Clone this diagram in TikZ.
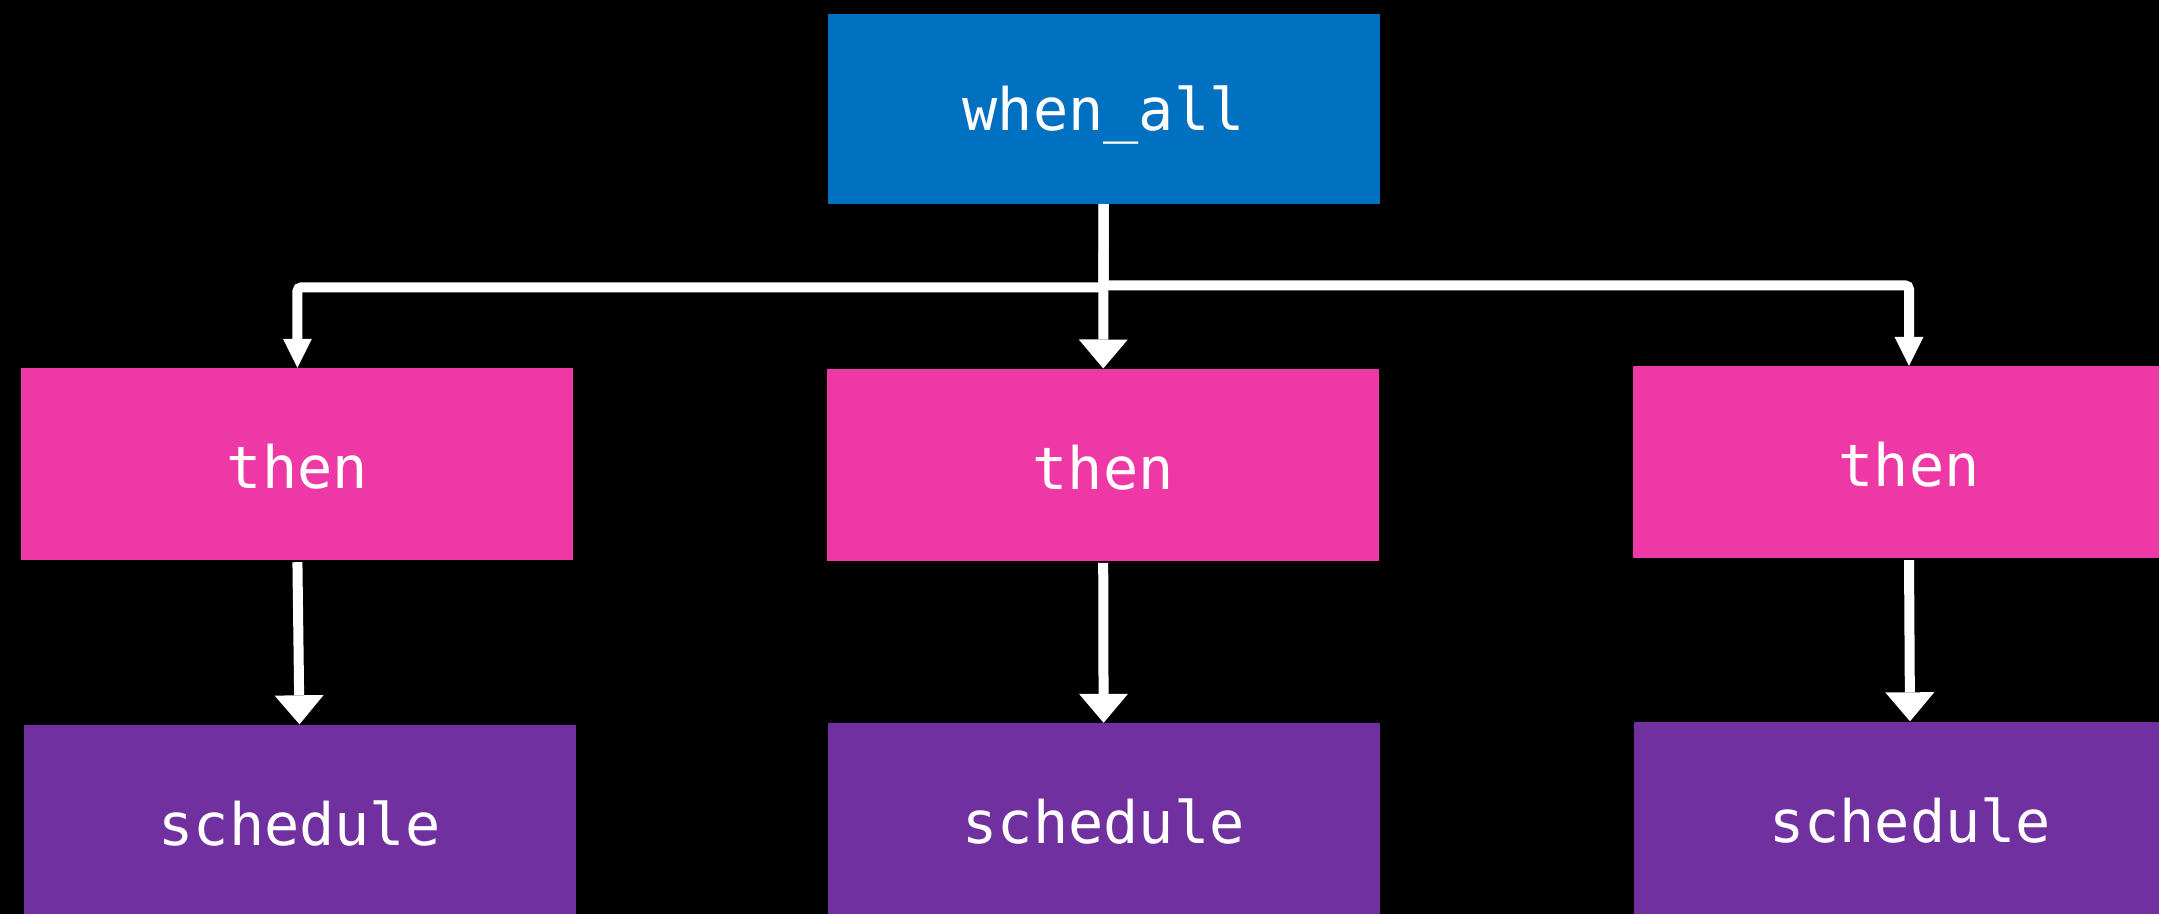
\documentclass[tikz,border=0pt]{standalone}
\usepackage{fontspec}
\newfontfamily\codefont{DejaVu Sans Mono}
\usetikzlibrary{arrows.meta}
\definecolor{opblue}{HTML}{0070C0}
\definecolor{oppink}{HTML}{EE38A5}
\definecolor{oppurple}{HTML}{7030A0}
\tikzset{
  opbox/.style={rectangle, inner sep=0pt, minimum width=552pt, minimum height=192pt,
    text=white, font=\codefont\fontsize{58.5}{70}\selectfont,
    text height=49pt, text depth=0pt},
  whenbox/.style={opbox, fill=opblue, minimum height=190pt, text height=44pt},
  thenbox/.style={opbox, fill=oppink},
  schedbox/.style={opbox, fill=oppurple},
  flow/.style={draw=white, line width=10pt,
    -{Triangle[width=49pt,length=29pt,line width=0pt]}},
  branch/.style={draw=white, line width=10pt, rounded corners=4pt,
    -{Triangle[width=29pt,length=29pt,line width=0pt]}},
}
\begin{document}
\begin{tikzpicture}[x=1pt,y=-1pt]
  % canvas
  \useasboundingbox (0,0) rectangle (2159,913);
  \clip (0,0) rectangle (2159,913);
  \fill[black] (-5,-5) rectangle (2164,918);

  % operations
  \node[whenbox] (wa) at (1103.6,108.8) {when\_all};

  \node[thenbox] (t1) at (297.4,464) {then};
  \node[thenbox] (t2) at (1103.2,464.7) {then};
  \node[thenbox] (t3) at (1909,462) {then};

  \node[schedbox] (s1) at (299.5,820.5) {schedule};
  \node[schedbox] (s2) at (1103.6,819) {schedule};
  \node[schedbox] (s3) at (1910,817.5) {schedule};

  % bus corners above the outer branches
  \path (t1.north) ++(0,-80.5) coordinate (busL);
  \path (t3.north) ++(0,-80.5) coordinate (busR);

  % fan-out from when_all
  \draw[branch] (wa.south) |- (busL) -- (t1.north);
  \draw[branch] (wa.south) |- (busR) -- (t3.north);
  \draw[flow] (wa.south) -- (t2.north);

  % each then feeds its schedule
  \draw[flow, shorten <=2pt] (t1.south) -- (s1.north);
  \draw[flow, shorten <=2pt] (t2.south) -- (s2.north);
  \draw[flow, shorten <=2pt] (t3.south) -- (s3.north);
\end{tikzpicture}
\end{document}
